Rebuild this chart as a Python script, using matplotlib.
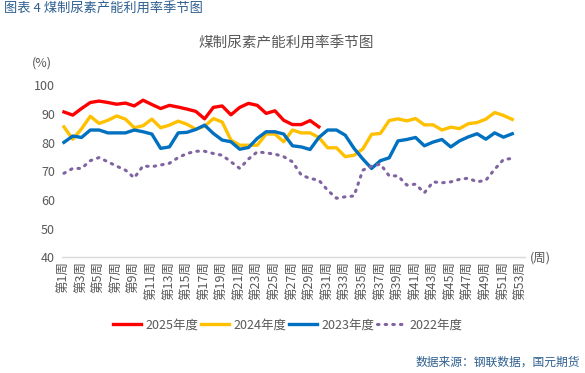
import matplotlib
matplotlib.use("Agg")
import matplotlib.pyplot as plt
import numpy as np

plt.rcParams['font.family'] = ['Noto Sans CJK SC', 'DejaVu Sans']

weeks = list(range(1, 54))
week_labels = [f"第{w}周" for w in weeks]

y2025 = [90.7, 89.6, 91.9, 94.0, 94.5, 94.0, 93.4, 93.8, 92.8, 94.8,
         93.3, 91.9, 93.0, 92.4, 91.7, 90.9, 88.3, 92.3, 92.8, 89.7,
         92.3, 93.7, 93.0, 90.2, 91.1, 87.8, 86.3, 86.3, 87.7, 85.5]
y2024 = [85.5, 81.2, 84.8, 89.2, 86.7, 87.8, 89.3, 88.2, 85.2, 85.9,
         88.2, 85.2, 86.1, 87.5, 86.4, 84.7, 85.7, 88.4, 87.2, 80.9,
         79.1, 79.1, 79.1, 83.0, 83.0, 80.3, 84.4, 83.4, 83.4, 81.8,
         78.2, 78.2, 75.1, 75.6, 77.8, 82.9, 83.2, 87.7, 88.3, 87.6,
         88.4, 86.2, 86.2, 84.4, 85.4, 84.9, 86.6, 87.0, 88.2, 90.5,
         89.5, 88.1]
y2023 = [80.1, 82.3, 81.8, 84.4, 84.4, 83.4, 83.4, 83.4, 84.4, 83.8,
         83.0, 78.0, 78.5, 83.4, 83.6, 84.6, 86.1, 83.2, 80.9, 80.3,
         77.7, 78.3, 81.5, 83.8, 83.8, 83.0, 78.9, 78.5, 77.6, 81.8,
         84.4, 84.4, 82.6, 78.0, 74.3, 71.0, 73.7, 74.7, 80.6, 81.1,
         81.8, 78.9, 80.2, 81.1, 78.5, 80.6, 82.0, 83.1, 81.2, 83.4,
         81.9, 83.1]
y2022 = [69.3, 71.0, 71.0, 73.7, 74.8, 73.3, 71.8, 70.4, 67.7, 71.9,
         71.6, 72.2, 72.8, 74.8, 76.2, 77.0, 77.0, 76.2, 75.6, 73.3,
         71.0, 74.3, 76.8, 76.4, 76.0, 75.1, 73.3, 68.7, 67.5, 66.9,
         63.4, 60.6, 61.1, 61.4, 70.4, 71.8, 72.5, 68.4, 68.4, 65.2,
         65.5, 62.5, 66.3, 66.0, 66.3, 67.2, 67.6, 66.3, 66.9, 70.7,
         74.1, 74.5]

W, H = 585, 373
fig = plt.figure(figsize=(W / 100, H / 100), dpi=100)

ax_l, ax_r, ax_t, ax_b = 62, 525, 85.3, 257.3
ax = fig.add_axes([ax_l / W, 1 - ax_b / H, (ax_r - ax_l) / W, (ax_b - ax_t) / H])

lw = 2.4
ax.plot(weeks[:len(y2025)], y2025, color='#ff0000', lw=lw, label='2025年度')
ax.plot(weeks[:len(y2024)], y2024, color='#ffc000', lw=lw, label='2024年度')
ax.plot(weeks[:len(y2023)], y2023, color='#0070c0', lw=lw, label='2023年度')
ax.plot(weeks[:len(y2022)], y2022, color='#8064a2', lw=2.2, ls=(0, (0.5, 2.0)),
        dash_capstyle='round', label='2022年度')

ax.set_ylim(40, 100)
ax.set_yticks(range(40, 101, 10))
ax.set_xlim(0.78, 53.45)
ax.set_xticks(weeks[::2])
ax.set_xticklabels(week_labels[::2], rotation=90, fontsize=9, color='#595959')
ax.tick_params(axis='both', length=0, pad=3)
ax.tick_params(axis='y', labelsize=9, labelcolor='#595959', pad=5)
for s in ['top', 'right', 'left']:
    ax.spines[s].set_visible(False)
ax.spines['bottom'].set_color('#d9d9d9')
ax.spines['bottom'].set_linewidth(1)

fig.text(4 / W, 1 - 9 / H, '图表 4 煤制尿素产能利用率季节图', fontsize=9.5, color='#2e5f8f',
         ha='left', va='center')
fig.text(286 / W, 1 - 44 / H, '煤制尿素产能利用率季节图', fontsize=10.5, color='#595959',
         ha='center', va='center')
fig.text(42 / W, 1 - 63 / H, '(%)', fontsize=9, color='#595959', ha='center', va='center')
fig.text(540 / W, 1 - 258 / H, '(周)', fontsize=9, color='#595959', ha='center', va='center')
fig.text(580 / W, 1 - 362 / H, '数据来源：钢联数据，国元期货', fontsize=8.5, color='#2e5f8f',
         ha='right', va='center')

leg = fig.legend(loc='center', bbox_to_anchor=(288 / W, 1 - 325 / H), ncol=4, frameon=False,
                 fontsize=9, handlelength=2.2, columnspacing=0.2, handletextpad=0.4)
for t in leg.get_texts():
    t.set_color('#595959')

fig.savefig('out.png', dpi=100)
